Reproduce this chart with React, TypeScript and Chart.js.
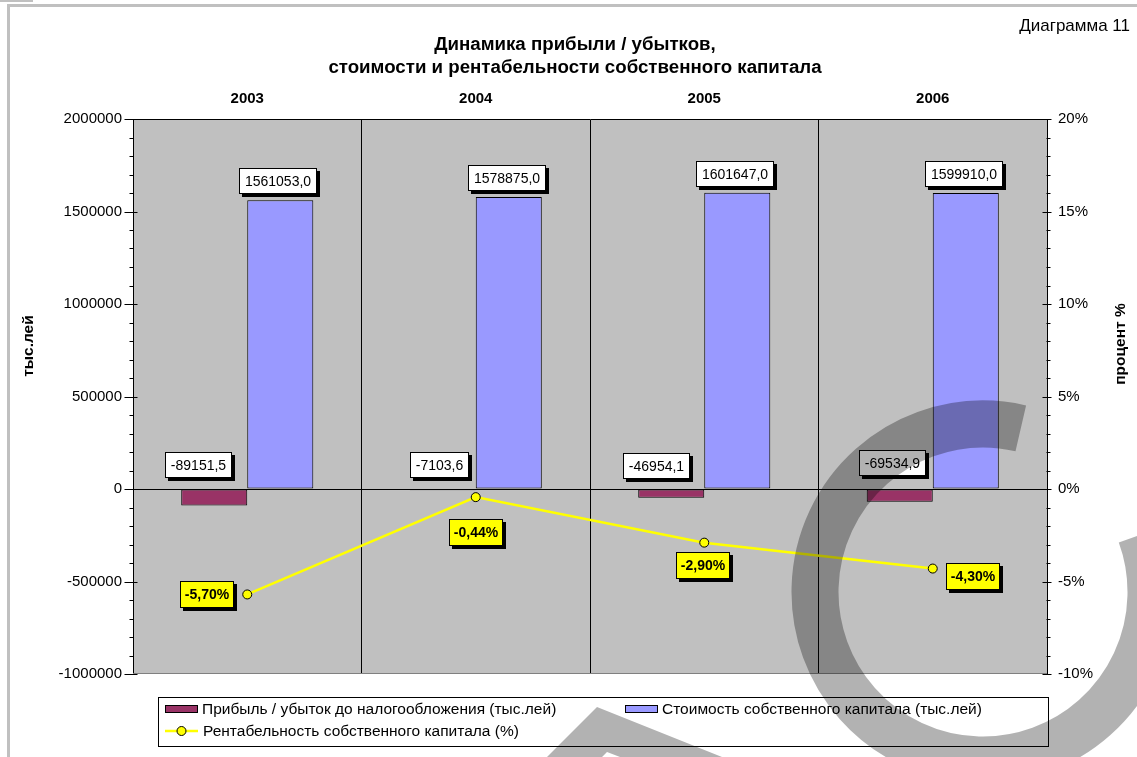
import React, { useEffect, useRef } from "react";
import { Chart, registerables } from "chart.js";

Chart.register(...registerables);

// ---------------- data ----------------
const years = ["2003", "2004", "2005", "2006"];
const profit = [-89151.5, -7103.6, -46954.1, -69534.9];
const equity = [1561053.0, 1578875.0, 1601647.0, 1599910.0];
const roe = [-5.7, -0.44, -2.9, -4.3];

const leftMin = -1000000;
const leftMax = 2000000;
const leftStep = 500000;
const leftMinor = 100000;
const rightMin = -10;
const rightMax = 20;
const rightStep = 5;
const rightMinor = 1;

const seriesNames = [
  "Прибыль / убыток до налогообложения (тыс.лей)",
  "Стоимость собственного капитала (тыс.лей)",
  "Рентабельность собственного капитала (%)",
];
const titleLines = [
  "Динамика прибыли / убытков,",
  "стоимости и рентабельности собственного капитала",
];
const cornerNote = "Диаграмма 11";
const leftTitle = "тыс.лей";
const rightTitle = "процент %";

// ---------------- style ----------------
const W = 1137;
const H = 757;
const FONT = "'Liberation Sans', Arial, sans-serif";
const MAROON = "#993366";
const BLUE = "#9999ff";
const YELLOW = "#ffff00";
const PLOT_BG = "#c0c0c0";

// label placement tweaks (style only)
const profitLabelDx = [-16, -3, -15, -7];
const profitLabelGap = [12, 12, 11, 14];
const equityLabelDx = [-2, -2, -2, -2];
const roeLabelOffset = [
  [-40, 0],
  [0, 35],
  [-1, 23],
  [40, 8],
];

const fmt1 = (v: number) => v.toFixed(1).replace(".", ",");
const fmtPct = (v: number) => v.toFixed(2).replace(".", ",") + "%";

function drawBox(
  ctx: CanvasRenderingContext2D,
  text: string,
  cx: number,
  cy: number,
  font: string,
  fill: string,
  padX: number,
  h: number
) {
  ctx.font = font;
  const w = Math.round(ctx.measureText(text).width + padX * 2);
  const x = Math.round(cx - w / 2);
  const y = Math.round(cy - h / 2);
  ctx.fillStyle = "#000";
  ctx.fillRect(x + 3, y + 3, w, h);
  ctx.fillStyle = fill;
  ctx.fillRect(x, y, w, h);
  ctx.strokeStyle = "#000";
  ctx.lineWidth = 1;
  ctx.strokeRect(x + 0.5, y + 0.5, w - 1, h - 1);
  ctx.fillStyle = "#000";
  ctx.textAlign = "center";
  ctx.textBaseline = "middle";
  ctx.fillText(text, x + w / 2, y + h / 2 + 1);
}

const decorPlugin = {
  id: "decor",
  beforeDraw(chart: any) {
    const { ctx, chartArea: a } = chart;
    ctx.save();
    ctx.fillStyle = "#fff";
    ctx.fillRect(0, 0, W, H);
    ctx.fillStyle = "#c0c0c0";
    ctx.fillRect(0, 0, 33, 2);
    ctx.fillRect(7, 4, W - 7, 3);
    ctx.fillRect(7, 4, 3, H - 4);
    ctx.fillStyle = PLOT_BG;
    ctx.fillRect(a.left, a.top, a.right - a.left, a.bottom - a.top);
    ctx.restore();
  },
  beforeDatasetsDraw(chart: any) {
    const { ctx, chartArea: a, scales } = chart;
    ctx.save();
    const y0 = Math.round(scales.y.getPixelForValue(0)) + 0.5;
    ctx.strokeStyle = "#000";
    ctx.lineWidth = 1;
    ctx.beginPath();
    ctx.moveTo(a.left, y0);
    ctx.lineTo(a.right, y0);
    ctx.stroke();
    ctx.strokeStyle = "#808080";
    ctx.beginPath();
    ctx.moveTo(a.left, Math.round(a.bottom) - 0.5);
    ctx.lineTo(a.right, Math.round(a.bottom) - 0.5);
    ctx.stroke();
    ctx.restore();
  },
  afterDraw(chart: any) {
    const { ctx, chartArea: a, scales } = chart;
    ctx.save();

    // ticks (major + minor)
    ctx.strokeStyle = "#000";
    ctx.lineWidth = 1;
    const lx = Math.round(a.left) + 0.5;
    for (let v = leftMin; v <= leftMax; v += leftMinor) {
      const y = Math.round(scales.y.getPixelForValue(v)) + 0.5;
      const major = v % leftStep === 0;
      ctx.beginPath();
      ctx.moveTo(major ? lx - 9 : lx - 4, y);
      ctx.lineTo(major ? lx + 4 : lx, y);
      ctx.stroke();
    }
    const rx = Math.round(a.right) - 0.5;
    for (let v = rightMin; v <= rightMax; v += rightMinor) {
      const y = Math.round(scales.y1.getPixelForValue(v)) + 0.5;
      const major = v % rightStep === 0;
      ctx.beginPath();
      ctx.moveTo(major ? rx - 4 : rx, y);
      ctx.lineTo(major ? rx + 5 : rx + 4, y);
      ctx.stroke();
    }

    // data labels
    const metaP = chart.getDatasetMeta(0);
    const metaE = chart.getDatasetMeta(1);
    const metaR = chart.getDatasetMeta(2);
    const normalFont = `14px ${FONT}`;
    const boldFont = `bold 14px ${FONT}`;
    metaP.data.forEach((el: any, i: number) => {
      const bottom = el.base - profitLabelGap[i];
      drawBox(ctx, fmt1(profit[i]), el.x + profitLabelDx[i], bottom - 13, normalFont, "#fff", 6, 26);
    });
    metaE.data.forEach((el: any, i: number) => {
      const bottom = el.y - 6;
      drawBox(ctx, fmt1(equity[i]), el.x + equityLabelDx[i], bottom - 13, normalFont, "#fff", 6, 26);
    });
    metaR.data.forEach((el: any, i: number) => {
      const [dx, dy] = roeLabelOffset[i];
      drawBox(ctx, fmtPct(roe[i]), el.x + dx, el.y + dy, boldFont, YELLOW, 5, 27);
    });

    // titles
    ctx.fillStyle = "#000";
    ctx.textAlign = "center";
    ctx.textBaseline = "middle";
    ctx.font = `bold 18.7px ${FONT}`;
    ctx.fillText(titleLines[0], 575, 45);
    ctx.fillText(titleLines[1], 575, 68);
    ctx.font = `17px ${FONT}`;
    ctx.textAlign = "right";
    ctx.fillText(cornerNote, 1130, 26);

    // axis titles
    ctx.font = `bold 15.5px ${FONT}`;
    ctx.textAlign = "center";
    ctx.save();
    ctx.translate(29, 346);
    ctx.rotate(-Math.PI / 2);
    ctx.fillText(leftTitle, 0, 0);
    ctx.restore();
    ctx.save();
    ctx.translate(1121, 344);
    ctx.rotate(-Math.PI / 2);
    ctx.fillText(rightTitle, 0, 0);
    ctx.restore();

    // legend
    ctx.fillStyle = "#fff";
    ctx.fillRect(158, 697, 1049 - 158, 747 - 697);
    ctx.strokeStyle = "#000";
    ctx.lineWidth = 1;
    ctx.strokeRect(158.5, 697.5, 1049 - 158 - 1, 747 - 697 - 1);
    ctx.font = `15.5px ${FONT}`;
    ctx.textAlign = "left";
    ctx.textBaseline = "middle";
    // item 1
    ctx.fillStyle = MAROON;
    ctx.fillRect(165, 705, 33, 8);
    ctx.strokeRect(165.5, 705.5, 32, 7);
    ctx.fillStyle = "#000";
    ctx.fillText(seriesNames[0], 202, 710);
    // item 2
    ctx.fillStyle = BLUE;
    ctx.fillRect(625, 705, 33, 8);
    ctx.strokeRect(625.5, 705.5, 32, 7);
    ctx.fillStyle = "#000";
    ctx.fillText(seriesNames[1], 662, 710);
    // item 3
    ctx.strokeStyle = YELLOW;
    ctx.lineWidth = 2.5;
    ctx.beginPath();
    ctx.moveTo(165, 731);
    ctx.lineTo(198, 731);
    ctx.stroke();
    ctx.beginPath();
    ctx.arc(181.5, 731, 4.5, 0, Math.PI * 2);
    ctx.fillStyle = YELLOW;
    ctx.fill();
    ctx.lineWidth = 1;
    ctx.strokeStyle = "#000";
    ctx.stroke();
    ctx.fillStyle = "#000";
    ctx.fillText(seriesNames[2], 203, 732);

    // watermark overlay
    ctx.strokeStyle = "rgba(0,0,0,0.3)";
    ctx.lineWidth = 47;
    ctx.lineCap = "butt";
    ctx.beginPath();
    ctx.arc(983, 592, 168, (-20 * Math.PI) / 180, (283 * Math.PI) / 180, false);
    ctx.stroke();
    ctx.fillStyle = "rgba(0,0,0,0.3)";
    ctx.beginPath();
    ctx.moveTo(597, 707);
    ctx.lineTo(722, 757);
    ctx.lineTo(620, 757);
    ctx.lineTo(607, 752);
    ctx.lineTo(602, 757);
    ctx.lineTo(547, 757);
    ctx.closePath();
    ctx.fill();

    ctx.restore();
  },
};

export default function App() {
  const canvasRef = useRef<HTMLCanvasElement | null>(null);

  useEffect(() => {
    if (!canvasRef.current) return;
    const chart = new Chart(canvasRef.current, {
      type: "bar",
      data: {
        labels: years,
        datasets: [
          {
            type: "bar",
            label: seriesNames[0],
            data: profit,
            yAxisID: "y",
            backgroundColor: MAROON,
            borderColor: "#000",
            borderWidth: 1,
            borderSkipped: false,
            barPercentage: 1,
            categoryPercentage: 0.578,
            order: 2,
          },
          {
            type: "bar",
            label: seriesNames[1],
            data: equity,
            yAxisID: "y",
            backgroundColor: BLUE,
            borderColor: "#000",
            borderWidth: 1,
            borderSkipped: false,
            barPercentage: 1,
            categoryPercentage: 0.578,
            order: 2,
          },
          {
            type: "line",
            label: seriesNames[2],
            data: roe,
            yAxisID: "y1",
            borderColor: YELLOW,
            borderWidth: 2.5,
            pointRadius: 4.5,
            pointBackgroundColor: YELLOW,
            pointBorderColor: "#000",
            pointBorderWidth: 1,
            tension: 0,
            order: 0,
          } as any,
        ],
      },
      options: {
        responsive: false,
        maintainAspectRatio: false,
        animation: false,
        devicePixelRatio: 1,
        layout: { padding: { top: 0, left: 0, right: 0, bottom: 83 } },
        plugins: {
          legend: { display: false },
          title: { display: false },
          tooltip: { enabled: false },
        },
        scales: {
          x: {
            type: "category",
            position: "top",
            offset: true,
            grid: { display: true, offset: true, color: "#000", drawTicks: false, lineWidth: 1 },
            border: { display: true, color: "#000" },
            ticks: { font: { family: FONT, size: 15, weight: "bold" }, color: "#000", padding: 11 },
            afterFit: (s: any) => {
              s.height = 119;
            },
          },
          y: {
            position: "left",
            min: leftMin,
            max: leftMax,
            grid: { display: true, drawOnChartArea: false, drawTicks: false },
            border: { display: true, color: "#000" },
            ticks: {
              stepSize: leftStep,
              font: { family: FONT, size: 15 },
              color: "#000",
              padding: 11,
              callback: (v: any) => String(v),
            },
            afterFit: (s: any) => {
              s.width = 133;
            },
          },
          y1: {
            position: "right",
            min: rightMin,
            max: rightMax,
            grid: { display: true, drawOnChartArea: false, drawTicks: false },
            border: { display: true, color: "#000" },
            ticks: {
              stepSize: rightStep,
              font: { family: FONT, size: 15 },
              color: "#000",
              padding: 11,
              callback: (v: any) => v + "%",
            },
            afterFit: (s: any) => {
              s.width = 90;
            },
          },
        },
      } as any,
      plugins: [decorPlugin],
    });
    return () => chart.destroy();
  }, []);

  return (
    <div style={{ position: "fixed", left: 0, top: 0, width: W, height: H }}>
      <canvas ref={canvasRef} width={W} height={H} style={{ display: "block" }} />
    </div>
  );
}
